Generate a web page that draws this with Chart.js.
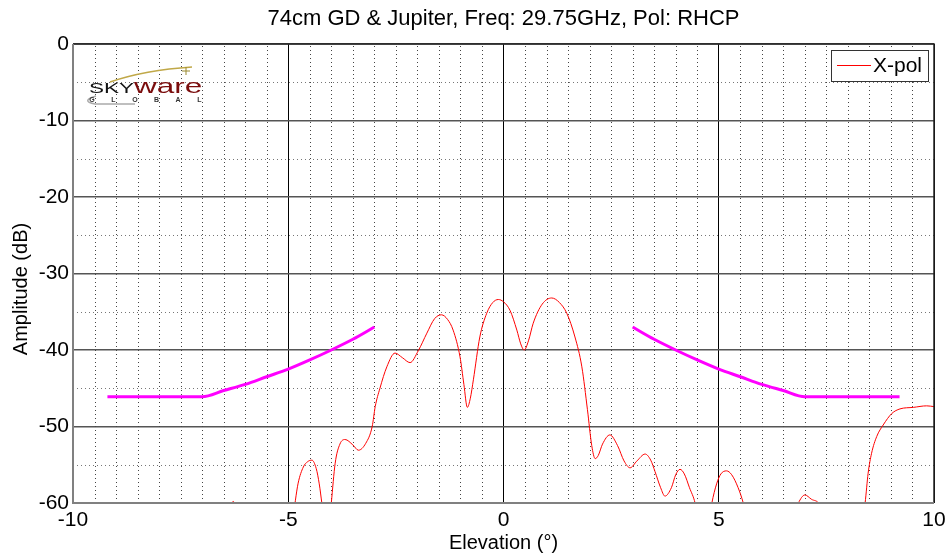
<!DOCTYPE html>
<html><head><meta charset="utf-8">
<script src="https://cdn.jsdelivr.net/npm/chart.js@4.4.0/dist/chart.umd.min.js"></script>
<style>html,body{margin:0;padding:0;background:#fff;}canvas{display:block;}</style>
</head><body>
<canvas id="c" width="952" height="558"></canvas>
<script>
// ---- data ----
const titleText = '74cm GD & Jupiter, Freq: 29.75GHz, Pol: RHCP';
const xLabel = 'Elevation (\u00B0)';
const yLabel = 'Amplitude (dB)';
const legendLabel = 'X-pol';
const xTickLabels = [-10, -5, 0, 5, 10];
const yTickLabels = [0, -10, -20, -30, -40, -50, -60];

// X-pol measured pattern (elevation deg, dB); values below -60 are off-scale
const xpolX = [-10, -7.0, -6.4, -6.28, -6.15, -5.5, -4.9, -4.77, -4.65, -4.55, -4.45, -4.35, -4.28, -4.22, -4.15, -4.05, -4.0,
  -3.91, -3.8, -3.68, -3.5, -3.37, -3.2, -3.05, -2.98, -2.87, -2.71, -2.52, -2.35, -2.17, -1.98, -1.78, -1.6, -1.44, -1.3,
  -1.17, -1.01, -0.92, -0.84, -0.77, -0.70, -0.55, -0.39, -0.25, -0.12, 0.0, 0.15, 0.31, 0.40, 0.48, 0.58, 0.69, 0.9, 1.12,
  1.3, 1.47, 1.66, 1.82, 1.95, 2.05, 2.13, 2.2, 2.3, 2.47, 2.65, 2.8, 2.94, 3.1, 3.29, 3.42, 3.52, 3.65, 3.75, 3.9, 4.0, 4.10,
  4.2, 4.32, 4.45, 4.55, 4.75, 4.84, 4.95, 5.05, 5.18, 5.3, 5.45, 5.57, 5.7, 6.3, 6.75, 6.85, 7.0, 7.15, 7.35, 7.6, 8.2, 8.40,
  8.47, 8.55, 8.67, 8.82, 9.02, 9.21, 9.52, 9.83, 10];
const xpolY = [-72, -70, -61.5, -59.8, -61.5, -72, -62, -57.4, -55.3, -54.6, -54.4, -55.5, -57.5, -60, -63, -63, -60,
  -54.8, -52.3, -51.7, -52.4, -53.1, -52.2, -50.0, -47.4, -45.0, -42.2, -40.4, -41.0, -41.65, -40.1, -37.8, -35.9, -35.4, -36.0,
  -37.4, -40.9, -44.5, -47.5, -46.3, -43.9, -38.3, -35.2, -33.8, -33.4, -33.7, -34.8, -37.4, -39.2, -40.0, -38.8, -36.5, -34.0, -33.2,
  -33.8, -35.2, -38.3, -42.2, -47.8, -52.5, -54.2, -53.8, -52.3, -51.1, -52.5, -54.5, -55.4, -54.5, -53.6, -54.4, -55.9, -58.0, -59.1, -58.0, -56.3, -55.6,
  -56.2, -58, -60, -63, -63, -60, -57.5, -56.2, -55.8, -56.3, -58, -60, -63, -70, -61.5, -60, -58.95, -59.5, -60.3, -65, -68, -60,
  -56.1, -53.5, -51.3, -49.8, -48.3, -47.7, -47.5, -47.3, -47.4];

// Mask (magenta) envelope, left and right branches
const maskLeftX = [-9.2, -7, -6.5, -6, -5.5, -5, -4.5, -4, -3.5, -3];
const maskLeftY = [-46.1, -46.1, -45.3, -44.5, -43.5, -42.5, -41.3, -40.0, -38.6, -37.0];
const maskRightX = [3, 3.5, 4, 4.5, 5, 5.5, 6, 6.5, 7, 9.2];
const maskRightY = [-37.0, -38.6, -40.0, -41.3, -42.5, -43.5, -44.5, -45.3, -46.1, -46.1];

const xpolData = xpolX.map((x, i) => ({x: x, y: xpolY[i]}));
const maskData = maskLeftX.map((x, i) => ({x: x, y: maskLeftY[i]}))
  .concat([{x: 0, y: null}])
  .concat(maskRightX.map((x, i) => ({x: x, y: maskRightY[i]})));

const FONT = '"Liberation Sans", Arial, sans-serif';
const XPOL_COLOR = '#ff0000';

const decor = {
  id: 'decor',
  beforeDatasetsDraw(chart) {
    const {ctx, chartArea: a, scales: {x, y}} = chart;
    ctx.save();
    ctx.lineWidth = 1;
    // minor dotted verticals every 0.5
    ctx.setLineDash([1, 3]);
    ctx.strokeStyle = '#444';
    for (let v = -9.5; v < 10; v += 0.5) {
      if (Math.abs(v % 5) < 1e-9) continue;
      const px = Math.round(x.getPixelForValue(v)) + 0.5;
      ctx.beginPath(); ctx.moveTo(px, a.bottom); ctx.lineTo(px, a.top); ctx.stroke();
    }
    // minor dotted horizontals every 5
    ctx.strokeStyle = '#777';
    for (let v = -55; v < 0; v += 10) {
      const py = Math.round(y.getPixelForValue(v)) + 0.5;
      ctx.beginPath(); ctx.moveTo(a.left, py); ctx.lineTo(a.right, py); ctx.stroke();
    }
    ctx.restore();
  },
  afterDatasetsDraw(chart) {
    const {ctx, chartArea: a} = chart;
    ctx.save();
    // frame
    ctx.setLineDash([]);
    ctx.strokeStyle = '#222'; ctx.lineWidth = 1.5;
    ctx.beginPath(); ctx.moveTo(a.left, a.top); ctx.lineTo(a.right, a.top); ctx.lineTo(a.right, a.bottom); ctx.stroke();
    ctx.strokeStyle = '#808080'; ctx.lineWidth = 2;
    ctx.beginPath(); ctx.moveTo(a.left, a.top); ctx.lineTo(a.left, a.bottom); ctx.lineTo(a.right, a.bottom); ctx.stroke();

    // legend box
    ctx.fillStyle = '#fff'; ctx.fillRect(831, 50, 98, 32);
    ctx.strokeStyle = '#333'; ctx.lineWidth = 1;
    ctx.strokeRect(831.5, 50.5, 97, 31);
    ctx.strokeStyle = XPOL_COLOR; ctx.lineWidth = 1.2;
    ctx.beginPath(); ctx.moveTo(837, 65.5); ctx.lineTo(871, 65.5); ctx.stroke();
    ctx.fillStyle = '#000'; ctx.font = '21px ' + FONT;
    ctx.textAlign = 'left'; ctx.textBaseline = 'middle';
    ctx.fillText(legendLabel, 873, 66);

    // logo
    ctx.save();
    ctx.strokeStyle = '#c0a848'; ctx.lineWidth = 1.5;
    ctx.beginPath(); ctx.moveTo(110, 82); ctx.quadraticCurveTo(145, 70, 192, 67); ctx.stroke();
    ctx.strokeStyle = '#9a8a30'; ctx.lineWidth = 1;
    ctx.beginPath(); ctx.moveTo(182, 71); ctx.lineTo(190, 71); ctx.moveTo(186, 67); ctx.lineTo(186, 75); ctx.stroke();
    ctx.strokeStyle = '#aaa'; ctx.lineWidth = 1.5;
    ctx.beginPath(); ctx.moveTo(96, 96); ctx.quadraticCurveTo(80, 101, 95, 104); ctx.lineTo(135, 104); ctx.stroke();
    ctx.textBaseline = 'alphabetic'; ctx.textAlign = 'left';
    ctx.translate(89, 93); ctx.scale(1.5, 1);
    ctx.font = '15px ' + FONT; ctx.fillStyle = '#111';
    ctx.fillText('SKY', 0, 0);
    const w = ctx.measureText('SKY').width;
    ctx.font = '21px ' + FONT; ctx.fillStyle = '#7a0c0c';
    ctx.fillText('ware', w, 0);
    ctx.restore();
    ctx.font = 'bold 7px ' + FONT; ctx.fillStyle = '#333'; ctx.textAlign = 'center'; ctx.textBaseline = 'alphabetic';
    const g = ['G', 'L', 'O', 'B', 'A', 'L'];
    g.forEach((ch, i) => ctx.fillText(ch, 92 + i * 21.5, 102));

    // title and axis titles
    ctx.fillStyle = '#000'; ctx.textAlign = 'center'; ctx.textBaseline = 'middle';
    ctx.font = '22px ' + FONT;
    ctx.fillText(titleText, (a.left + a.right) / 2, 19);
    ctx.font = '20px ' + FONT;
    ctx.fillText(xLabel, (a.left + a.right) / 2, 543);
    ctx.translate(21, 289); ctx.rotate(-Math.PI / 2);
    ctx.fillText(yLabel, 0, 0);
    ctx.restore();
  }
};

new Chart(document.getElementById('c'), {
  type: 'line',
  data: {
    datasets: [
      {label: legendLabel, data: xpolData, borderColor: XPOL_COLOR, borderWidth: 1, pointRadius: 0,
       cubicInterpolationMode: 'monotone', fill: false, order: 2},
      {label: 'mask', data: maskData, borderColor: '#ff00ff', borderWidth: 3, pointRadius: 0,
       cubicInterpolationMode: 'monotone', spanGaps: false, fill: false, order: 1}
    ]
  },
  options: {
    responsive: false, animation: false,
    layout: {padding: {top: 44, right: 18, left: 0, bottom: 0}},
    plugins: {legend: {display: false}, title: {display: false}, tooltip: {enabled: false}},
    scales: {
      x: {
        type: 'linear', min: -10, max: 10,
        afterBuildTicks: s => { s.ticks = xTickLabels.map(v => ({value: v})); },
        ticks: {autoSkip: false, maxRotation: 0, padding: 5, color: '#000',
                font: {size: 21, family: FONT}, callback: v => String(v)},
        grid: {color: '#000', lineWidth: 1, drawTicks: false},
        border: {display: false},
        afterFit: s => { s.height = 55; }
      },
      y: {
        type: 'linear', min: -60, max: 0,
        afterBuildTicks: s => { s.ticks = yTickLabels.map(v => ({value: v})); },
        ticks: {autoSkip: false, padding: 4, color: '#000',
                font: {size: 21, family: FONT}, callback: v => String(v)},
        grid: {color: '#555', lineWidth: 1.5, drawTicks: false},
        border: {display: false},
        afterFit: s => { s.width = 73; }
      }
    }
  },
  plugins: [decor]
});
</script>
</body></html>
